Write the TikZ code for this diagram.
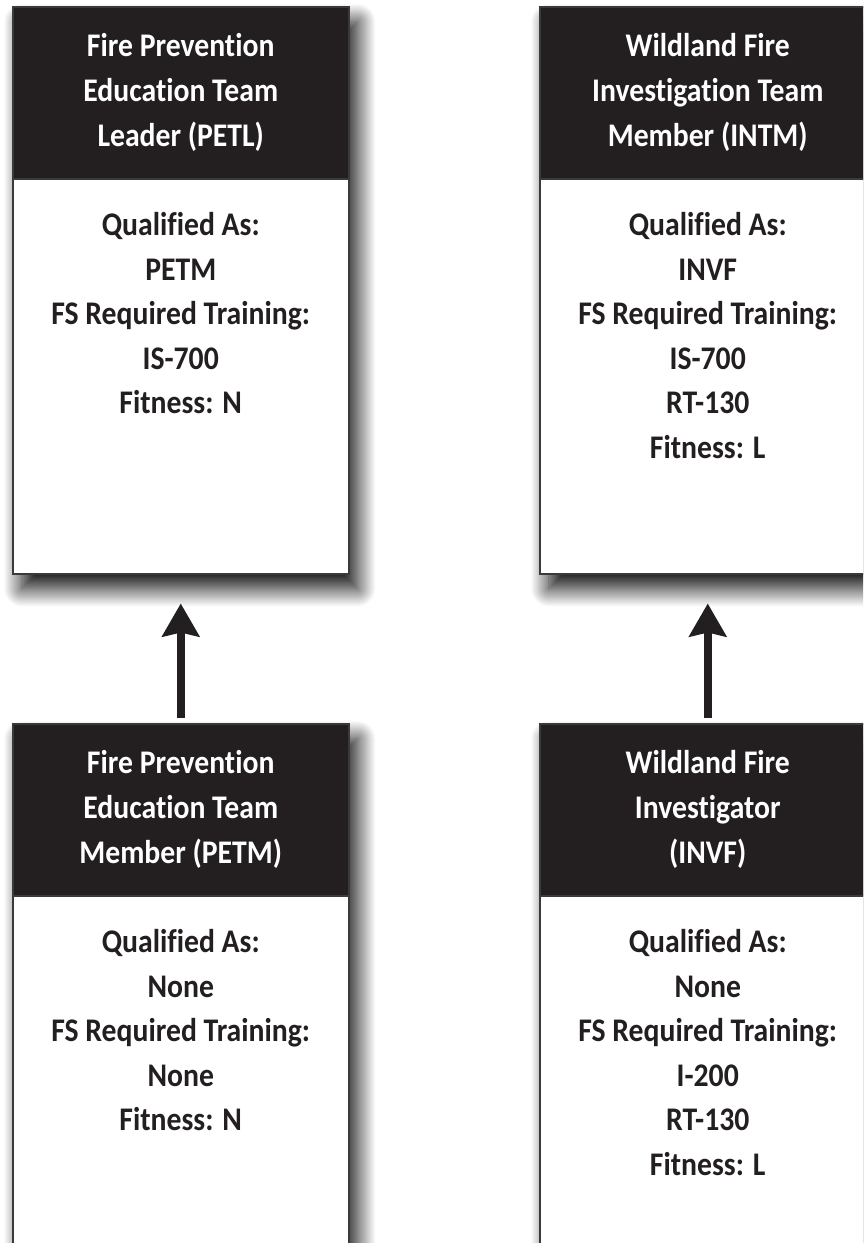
\documentclass[tikz,border=0pt]{standalone}
\usepackage{fontspec}
\setmainfont{Carlito}[FakeStretch=0.9,Ligatures=NoCommon]
\usetikzlibrary{arrows.meta,positioning,shadows.blur}
\definecolor{cardink}{HTML}{231F20}
\definecolor{cardedge}{HTML}{3A3A3A}
\tikzset{card/.style={draw=cardedge,line width=1.5pt,fill=white,minimum width=336pt,
  minimum height=567pt,anchor=north west,inner sep=0pt,
  blur shadow={shadow xshift=9pt,shadow yshift=-15pt,shadow blur radius=18pt,
   shadow blur steps=30,shadow opacity=95}},
 cardhead/.style={fill=cardink,draw=cardedge,line width=1.5pt,minimum width=336pt,
  minimum height=172pt,anchor=north,inner sep=0pt,text=white,align=center,
  font=\bfseries\fontsize{33}{45}\selectfont},
 cardbody/.style={inner sep=0pt,text=cardink,align=center,
  font=\bfseries\fontsize{33}{44.5}\selectfont},
 promote/.style={-{Stealth[length=33pt,width=37pt,inset=4pt]},line width=8pt,draw=cardink}}

\begin{document}
\begin{tikzpicture}[x=1pt,y=-1pt]
\useasboundingbox (0,0) rectangle (863,1243);
\clip (0,0) rectangle (863,1243);
\node[card] (petl) at (12,6) {};
\node[cardhead] (petlhead) at (petl.north) {Fire Prevention\\Education Team\\Leader (PETL)};
\node[cardbody,below=33pt of petlhead] (petlbody) {Qualified As:\\PETM\\FS Required Training:\\IS-700\\Fitness: N};
\node[card] (intm) at (539,6) {};
\node[cardhead] (intmhead) at (intm.north) {Wildland Fire\\Investigation Team\\Member (INTM)};
\node[cardbody,below=33pt of intmhead] (intmbody) {Qualified As:\\INVF\\FS Required Training:\\IS-700\\RT-130\\Fitness: L};
\node[card] (petm) at (12,723) {};
\node[cardhead] (petmhead) at (petm.north) {Fire Prevention\\Education Team\\Member (PETM)};
\node[cardbody,below=33pt of petmhead] (petmbody) {Qualified As:\\None\\FS Required Training:\\None\\Fitness: N};
\node[card] (invf) at (539,723) {};
\node[cardhead] (invfhead) at (invf.north) {Wildland Fire\\Investigator\\(INVF)};
\node[cardbody,below=33pt of invfhead] (invfbody) {Qualified As:\\None\\FS Required Training:\\I-200\\RT-130\\Fitness: L};
\draw[promote] ([yshift=5pt]petm.north) -- ([yshift=-29pt]petl.south);
\draw[promote] ([yshift=5pt]invf.north) -- ([yshift=-29pt]intm.south);
\end{tikzpicture}
\end{document}
